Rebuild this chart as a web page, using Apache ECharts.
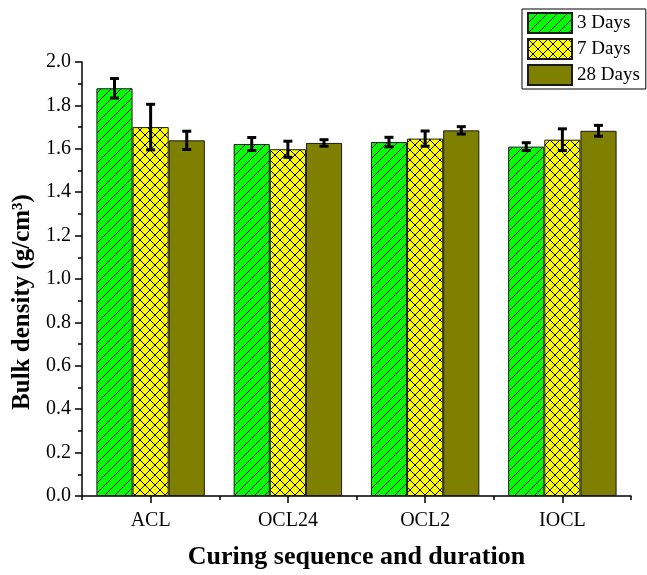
<!DOCTYPE html>
<html>
<head>
<meta charset="utf-8">
<script src="https://cdn.jsdelivr.net/npm/echarts@6/dist/echarts.min.js"></script>
<style>
  html, body { margin: 0; padding: 0; background: #fff; }
  #chart { width: 647px; height: 575px; }
</style>
</head>
<body>
<div id="chart"></div>
<script>
const categories = ['ACL', 'OCL24', 'OCL2', 'IOCL'];
const seriesNames = ['3 Days', '7 Days', '28 Days'];
const days3 = [1.879, 1.622, 1.631, 1.610];
const days7 = [1.700, 1.598, 1.647, 1.642];
const days28 = [1.639, 1.627, 1.685, 1.683];
const err3 = [0.045, 0.030, 0.022, 0.018];
const err7 = [0.105, 0.037, 0.035, 0.050];
const err28 = [0.042, 0.015, 0.017, 0.025];
const yMin = 0;
const yMax = 2.0;
const yStep = 0.2;

const FONT = '"Liberation Serif", "Times New Roman", serif';

// hatch fills drawn on small tiles
function hatch(bg, both) {
  const s = 10;
  const c = document.createElement('canvas');
  c.width = s; c.height = s;
  const ctx = c.getContext('2d');
  ctx.fillStyle = bg;
  ctx.fillRect(0, 0, s, s);
  ctx.strokeStyle = '#000';
  ctx.lineWidth = 1;
  ctx.beginPath();
  ctx.moveTo(0, s); ctx.lineTo(s, 0);
  ctx.moveTo(-1, 1); ctx.lineTo(1, -1);
  ctx.moveTo(s - 1, s + 1); ctx.lineTo(s + 1, s - 1);
  if (both) {
    ctx.moveTo(0, 0); ctx.lineTo(s, s);
    ctx.moveTo(-1, s - 1); ctx.lineTo(1, s + 1);
    ctx.moveTo(s - 1, -1); ctx.lineTo(s + 1, 1);
  }
  ctx.stroke();
  return { image: c, repeat: 'repeat' };
}

const fills = [hatch('#00ff00', false), hatch('#ffff00', true), '#808000'];
const values = [days3, days7, days28];
const errors = [err3, err7, err28];
const groupRatio = 0.79;

const barSeries = seriesNames.map((name, k) => ({
  name: name,
  type: 'bar',
  data: values[k],
  barGap: 0,
  barCategoryGap: '21%',
  itemStyle: { color: fills[k], borderColor: '#1a1a1a', borderWidth: 1 },
  emphasis: { disabled: true }
}));

const errSeries = seriesNames.map((name, k) => ({
  name: 'err-' + name,
  type: 'custom',
  z: 10,
  silent: true,
  data: categories.map((c, i) => [i, values[k][i] - errors[k][i], values[k][i] + errors[k][i]]),
  renderItem: function (params, api) {
    const band = api.size([1, 0])[0];
    const off = (k - 1) * band * groupRatio / 3;
    const lo = api.coord([api.value(0), api.value(1)]);
    const hi = api.coord([api.value(0), api.value(2)]);
    const x = lo[0] + off;
    const cap = 4.5;
    const st = { stroke: '#000', lineWidth: 3 };
    return {
      type: 'group',
      children: [
        { type: 'line', shape: { x1: x, y1: lo[1], x2: x, y2: hi[1] }, style: st },
        { type: 'line', shape: { x1: x - cap, y1: lo[1], x2: x + cap, y2: lo[1] }, style: st },
        { type: 'line', shape: { x1: x - cap, y1: hi[1], x2: x + cap, y2: hi[1] }, style: st }
      ]
    };
  }
}));

const chart = echarts.init(document.getElementById('chart'), null, { renderer: 'canvas' });
chart.setOption({
  animation: false,
  backgroundColor: '#fff',
  textStyle: { fontFamily: FONT },
  grid: { left: 82, right: 16, top: 62, bottom: 79, outerBoundsMode: 'none', containLabel: false },
  legend: {
    data: seriesNames,
    orient: 'vertical',
    left: 522,
    top: 9,
    padding: [3, 6, 3, 5],
    itemGap: 4,
    itemWidth: 44,
    itemHeight: 20,
    icon: 'rect',
    borderColor: '#000',
    borderWidth: 1,
    borderRadius: 0,
    textStyle: { fontFamily: FONT, fontSize: 19, color: '#000' }
  },
  xAxis: [
    {
      type: 'category',
      data: categories,
      axisLine: { lineStyle: { color: '#000', width: 1.5 } },
      axisTick: { show: true, alignWithLabel: true, length: 7, lineStyle: { color: '#000', width: 1.5 } },
      axisLabel: { color: '#000', fontFamily: FONT, fontSize: 20, margin: 15 },
      name: 'Curing sequence and duration',
      nameLocation: 'middle',
      nameGap: 48,
      nameTextStyle: { fontFamily: FONT, fontSize: 26, fontWeight: 'bold', color: '#000' }
    },
    {
      type: 'value',
      position: 'bottom',
      min: 0,
      max: 4,
      interval: 1,
      axisLine: { show: false },
      axisTick: { show: true, length: 4, lineStyle: { color: '#000', width: 1.5 } },
      axisLabel: { show: false },
      splitLine: { show: false }
    }
  ],
  yAxis: {
    type: 'value',
    min: yMin,
    max: yMax,
    interval: yStep,
    axisLine: { show: true, lineStyle: { color: '#000', width: 1.5 } },
    axisTick: { show: true, length: 7, lineStyle: { color: '#000', width: 1.5 } },
    minorTick: { show: true, splitNumber: 2, length: 4, lineStyle: { color: '#000', width: 1.5 } },
    splitLine: { show: false },
    axisLabel: {
      color: '#000', fontFamily: FONT, fontSize: 20, margin: 11,
      formatter: v => v.toFixed(1)
    },
    name: 'Bulk density (g/cm³)',
    nameLocation: 'middle',
    nameGap: 46,
    nameTextStyle: { fontFamily: FONT, fontSize: 25, fontWeight: 'bold', color: '#000', padding: [0, 46, 0, 0] }
  },
  series: barSeries.concat(errSeries)
});
</script>
</body>
</html>
